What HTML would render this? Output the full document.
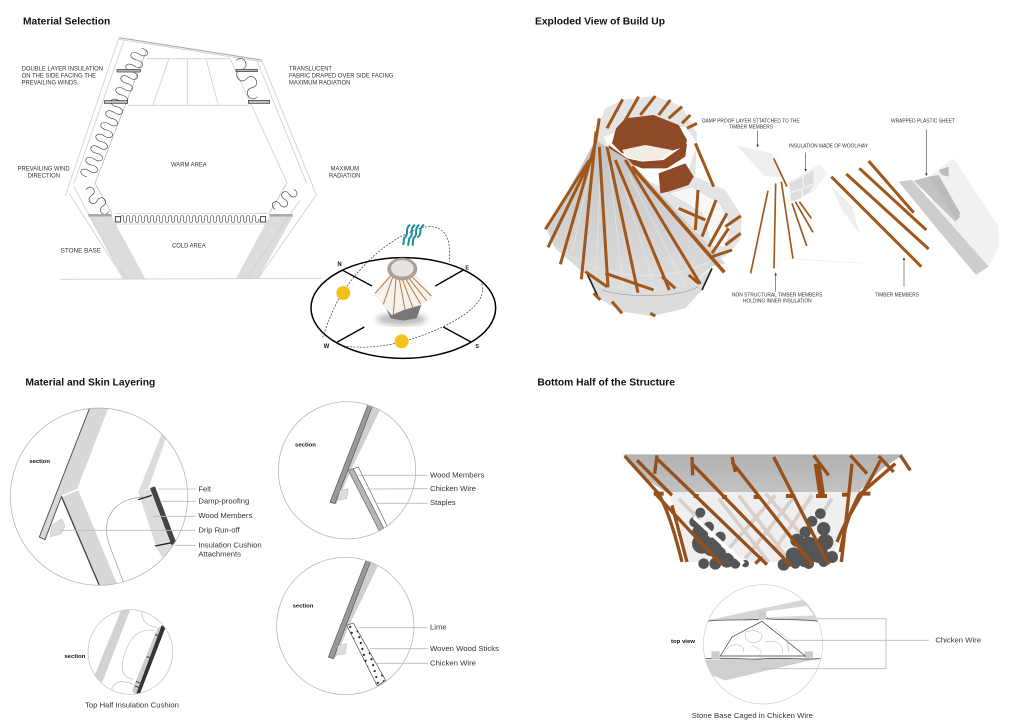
<!DOCTYPE html>
<html lang="en"><head><meta charset="utf-8"><title>Material and Build Up Diagrams</title>
<style>
html,body{margin:0;padding:0;background:#fff}
svg{display:block;filter:blur(.35px)}
text{font-family:"Liberation Sans",sans-serif;fill:#333}
.t{font-weight:bold;font-size:31px;fill:#111}
.c{font-size:18px}
.d{font-size:16px}
.l{font-size:23px}
.s{font-weight:bold;font-size:17px;fill:#111}
.g{fill:none;stroke:#cfcfcf;stroke-width:2.5}
.k{fill:none;stroke:#333;stroke-width:1.8}
.ld{fill:none;stroke:#bbb;stroke-width:2.5}
</style></head><body>
<svg width="1024" height="724" viewBox="0 0 1024 724" xmlns="http://www.w3.org/2000/svg">
<defs>
<pattern id="dots" width="26" height="26" patternUnits="userSpaceOnUse" patternTransform="rotate(30)"><rect width="26" height="26" fill="#fff"/><circle cx="7" cy="7" r="3.4" fill="#222"/><circle cx="20" cy="20" r="3.4" fill="#222"/></pattern>
<linearGradient id="cone" x1="0" y1="0" x2="0" y2="1"><stop offset="0" stop-color="#c2c2c2"/><stop offset="1" stop-color="#dedede"/></linearGradient>
<linearGradient id="band" x1="0" y1="0" x2="0" y2="1"><stop offset="0" stop-color="#b2b2b2"/><stop offset="1" stop-color="#c2c2c2"/></linearGradient>
<filter id="bl"><feGaussianBlur stdDeviation="9"/></filter>
<clipPath id="c1"><circle cx="297" cy="404" r="265"/></clipPath>
<clipPath id="c2"><circle cx="1041" cy="325" r="205"/></clipPath>
<clipPath id="c3"><circle cx="1036" cy="792" r="205"/></clipPath>
<clipPath id="c4"><circle cx="391" cy="870" r="126"/></clipPath>
<clipPath id="c5"><circle cx="753" cy="847" r="178"/></clipPath>
</defs>
<rect width="1024" height="724" fill="#fff"/>

<!-- Q1 -->
<g transform="scale(.33333)">
<text class="t" x="69" y="73" textLength="262" lengthAdjust="spacingAndGlyphs">Material Selection</text>
<polygon points="268,650 335,650 437,838 372,838" fill="#dcdcdc"/>
<polygon points="808,650 878,650 775,835 708,835" fill="#dcdcdc"/>
<path class="g" d="M357 118 L785 185 M357 113 L207 555 L197 588 M372 122 L222 550 M207 580 L372 838 M222 560 L345 790 L385 838 M785 180 L935 550 L950 590 M770 180 L920 550 M690 175 L862 550 M945 590 L775 835 M900 600 L740 835 M440 176 H690 M385 316 H750 M507 176 L458 316 M562 176 V316 M618 176 L655 316 M345 640 H805 M345 672 H800 M180 838 L965 835"/>
<path d="M357 113 L785 180" stroke="#aaa" stroke-width="3" fill="none"/>
<path d="M440 150 L285 550 L335 640 M860 550 L808 640" fill="none" stroke="#999" stroke-width="1.6"/>
<path class="k" d="M425 145 c29.800 6.500 17.900 34.500 -7.500 17.500 c-25.300 -17 -37.400 11 -7.500 17.500 c29.800 6.500 17.900 34.500 -7.500 17.500 c-25.300 -17 -37.400 11 -7.500 17.500 c29.800 6.500 17.900 34.500 -7.500 17.500 c-25.300 -17 -37.400 11 -7.500 17.500 c29.800 6.500 17.900 34.500 -7.500 17.500 c-25.300 -17 -37.400 11 -7.500 17.500 c29.800 6.500 17.900 34.500 -7.500 17.500 c-25.300 -17 -37.400 11 -7.500 17.500 c29.800 6.500 17.900 34.500 -7.500 17.500 c-25.300 -17 -37.400 11 -7.500 17.500 c29.800 6.500 17.900 34.500 -7.500 17.500 c-25.300 -17 -37.400 11 -7.500 17.500 c29.800 6.500 17.900 34.500 -7.500 17.500 c-25.300 -17 -37.400 11 -7.500 17.500 c29.800 6.500 17.900 34.500 -7.500 17.500 c-25.300 -17 -37.400 11 -7.500 17.500 c29.800 6.500 17.900 34.500 -7.500 17.500 c-25.300 -17 -37.400 11 -7.500 17.500 c29.800 6.500 17.900 34.500 -7.500 17.500 c-25.300 -17 -37.400 11 -7.500 17.500"/>
<path class="k" d="M708 182 c21 -23 46.600 20 16 27 c-30.600 6.900 -5 50.100 16 27 c21 -23 46.600 20 16 27 c-30.600 6.900 -5 50.100 16 27"/>
<path class="k" d="M258 570 c11.200 -22.300 38.400 3.300 17 16 c-21.400 12.700 5.800 38.300 17 16 c11.200 -22.300 38.400 3.300 17 16 c-21.400 12.700 5.800 38.300 17 16"/>
<path class="k" d="M882 568 c21.700 11.800 -.7 35.800 -14 15 c-13.300 -20.800 -35.700 3.200 -14 15 c21.700 11.800 -.7 35.800 -14 15 c-13.300 -20.800 -35.700 3.200 -14 15"/>
<path class="k" d="M362 657 c-2.700 -14 11.700 -14 9 0 c-2.700 14 11.700 14 9 0 c-2.700 -14 11.700 -14 9 0 c-2.700 14 11.700 14 9 0 c-2.700 -14 11.700 -14 9 0 c-2.700 14 11.700 14 9 0 c-2.700 -14 11.700 -14 9 0 c-2.700 14 11.700 14 9 0 c-2.700 -14 11.700 -14 9 0 c-2.700 14 11.700 14 9 0 c-2.700 -14 11.700 -14 9 0 c-2.700 14 11.700 14 9 0 c-2.700 -14 11.700 -14 9 0 c-2.700 14 11.700 14 9 0 c-2.700 -14 11.700 -14 9 0 c-2.700 14 11.700 14 9 0 c-2.700 -14 11.700 -14 9 0 c-2.700 14 11.700 14 9 0 c-2.700 -14 11.700 -14 9 0 c-2.700 14 11.700 14 9 0 c-2.700 -14 11.700 -14 9 0 c-2.700 14 11.700 14 9 0 c-2.700 -14 11.700 -14 9 0 c-2.700 14 11.700 14 9 0 c-2.700 -14 11.700 -14 9 0 c-2.700 14 11.700 14 9 0 c-2.700 -14 11.700 -14 9 0 c-2.700 14 11.700 14 9 0 c-2.700 -14 11.700 -14 9 0 c-2.700 14 11.700 14 9 0 c-2.700 -14 11.700 -14 9 0 c-2.700 14 11.700 14 9 0 c-2.700 -14 11.700 -14 9 0 c-2.700 14 11.700 14 9 0 c-2.700 -14 11.700 -14 9 0 c-2.700 14 11.700 14 9 0 c-2.700 -14 11.700 -14 9 0 c-2.700 14 11.700 14 9 0 c-2.700 -14 11.700 -14 9 0 c-2.700 14 11.700 14 9 0 c-2.700 -14 11.700 -14 9 0 c-2.700 14 11.700 14 9 0 c-2.700 -14 11.700 -14 9 0 c-2.700 14 11.700 14 9 0 c-2.700 -14 11.700 -14 9 0 c-2.700 14 11.700 14 9 0"/>
<g fill="#bbb" stroke="#333" stroke-width="2">
<rect x="351" y="208" width="70" height="8"/><rect x="313" y="302" width="70" height="8"/><rect x="708" y="208" width="64" height="7"/><rect x="745" y="301" width="64" height="9"/>
</g>
<rect x="265" y="642" width="70" height="8" fill="#aaa"/><rect x="808" y="642" width="70" height="8" fill="#aaa"/>
<rect x="346" y="650" width="16" height="16" fill="#fff" stroke="#222" stroke-width="2.5"/><rect x="781" y="650" width="16" height="16" fill="#fff" stroke="#222" stroke-width="2.5"/>
<text class="c" x="65" y="212" textLength="244" lengthAdjust="spacingAndGlyphs">DOUBLE LAYER INSULATION</text>
<text class="c" x="65" y="233" textLength="223" lengthAdjust="spacingAndGlyphs">ON THE SIDE FACING THE</text>
<text class="c" x="65" y="254" textLength="171" lengthAdjust="spacingAndGlyphs">PREVAILING WINDS.</text>
<text class="c" x="867" y="211" textLength="129" lengthAdjust="spacingAndGlyphs">TRANSLUCENT</text>
<text class="c" x="867" y="232" textLength="313" lengthAdjust="spacingAndGlyphs">FABRIC DRAPED OVER SIDE FACING</text>
<text class="c" x="867" y="253" textLength="184" lengthAdjust="spacingAndGlyphs">MAXIMUM RADIATION</text>
<text class="c" x="53" y="511" textLength="156" lengthAdjust="spacingAndGlyphs">PREVAILING WIND</text>
<text class="c" x="83" y="532" textLength="97" lengthAdjust="spacingAndGlyphs">DIRECTION</text>
<text class="c" x="513" y="499" textLength="107" lengthAdjust="spacingAndGlyphs">WARM AREA</text>
<text class="c" x="992" y="511" textLength="85" lengthAdjust="spacingAndGlyphs">MAXIMUM</text>
<text class="c" x="987" y="532" textLength="94" lengthAdjust="spacingAndGlyphs">RADIATION</text>
<text class="c" x="182" y="758" textLength="121" lengthAdjust="spacingAndGlyphs">STONE BASE</text>
<text class="c" x="516" y="742" textLength="101" lengthAdjust="spacingAndGlyphs">COLD AREA</text>
<!-- sun diagram -->
<ellipse cx="1210" cy="924" rx="277" ry="151" fill="#fff" stroke="#000" stroke-width="4.500"/>
<path d="M1030 812 L1116 858 M1390 810 L1306 858 M1012 1026 L1093 981 M1413 1026 L1330 981" stroke="#000" stroke-width="4" fill="none"/>
<path d="M968 1012 C985 960 1010 900 1040 860 C1090 790 1170 710 1270 682 C1330 670 1355 710 1348 785 M1020 1036 C1100 1050 1200 1040 1330 980 C1410 940 1460 900 1445 850" fill="none" stroke="#333" stroke-width="2" stroke-dasharray="6 4"/>
<circle cx="1030" cy="879" r="21" fill="#f3c31c"/><circle cx="1205" cy="1024" r="21" fill="#f3c31c"/>
<ellipse cx="1205" cy="958" rx="75" ry="18" fill="#bbb" filter="url(#bl)"/>
<polygon points="1155,918 1265,912 1250,955 1210,962 1172,955" fill="#777"/>
<polygon points="1168,825 1248,825 1297,890 1262,915 1210,930 1175,945 1125,885" fill="#f6f3ef" stroke="#e2e2e2"/>
<path d="M1172 828 L1125 880 M1178 832 L1150 913 M1188 836 L1180 943 M1198 838 L1215 928 M1208 840 L1238 922 M1218 838 L1262 912 M1228 836 L1280 902 M1238 832 L1294 888" stroke="#b87a3a" stroke-width="3" fill="none"/>
<ellipse cx="1207" cy="807" rx="45" ry="34" fill="#a8a296"/><ellipse cx="1207" cy="805" rx="34" ry="25" fill="#e8e2e2"/>
<g fill="none" stroke="#1c8c9a" stroke-width="6">
<path d="M1230 674 C1212 690 1230 700 1212 715 L1210 735"/>
<path d="M1245 674 C1225 690 1245 700 1228 715 L1224 737"/>
<path d="M1258 674 C1238 690 1258 700 1240 715 L1238 737"/>
<path d="M1272 674 C1252 690 1270 700 1252 712"/>
</g>
<text x="1012" y="798" font-size="18" font-weight="bold" style="fill:#111">N</text>
<text x="1396" y="808" font-size="16" font-weight="bold" style="fill:#111">E</text>
<text x="971" y="1044" font-size="18" font-weight="bold" style="fill:#111">W</text>
<text x="1426" y="1044" font-size="16" font-weight="bold" style="fill:#111">S</text>
</g>

<!-- Q2 -->
<g transform="translate(512,0) scale(.33333)">
<text class="t" x="69" y="73" textLength="390" lengthAdjust="spacingAndGlyphs">Exploded View of Build Up</text>
<!-- rear shell -->
<polygon points="250,400 280,325 330,300 430,288 510,320 555,400 550,530 640,570 690,650 685,720 640,770 500,820 300,600" fill="#e4e4e4"/>
<polygon points="275,410 300,400 520,380 555,430 530,510 470,570 380,530 300,470" fill="#fdfdfd"/>
<polygon points="470,580 540,560 625,610 660,680 640,740 600,740 570,640" fill="#f8f8f8" stroke="#d5d5d5" stroke-width="2"/>
<!-- brown ring -->
<polygon points="300,430 312,385 340,355 425,345 500,375 525,420 520,440 470,455 390,440 330,460" fill="#8e4a26"/>
<polygon points="330,450 400,435 480,450 450,478 385,482 345,470" fill="#f3ece4"/>
<polygon points="290,435 345,475 390,485 455,480 525,430 520,470 465,505 390,505 325,480 295,460" fill="#8e4a26"/>
<polygon points="440,520 520,490 545,530 530,555 470,575 445,580" fill="#8e4a26"/>
<!-- base -->
<polygon points="220,810 260,895 330,935 420,948 520,925 570,870 600,805 540,850 400,880 290,860" fill="#dcdcdc"/>
<path d="M220 810 L260 895 M600 805 L570 870" stroke="#222" stroke-width="5" fill="none"/>
<path d="M270 870 C330 890 480 900 560 860" stroke="#888" stroke-width="1.5" fill="none"/>
<!-- cone -->
<polygon points="250,420 105,690 130,745 205,810 290,860 400,880 540,850 600,800 640,790 350,480" fill="url(#cone)"/>
<path d="M245 460 L180 760 M268 470 L250 840 M290 480 L335 870 M320 500 L430 875 M350 520 L520 860 M130 740 C250 830 450 860 600 780" stroke="#eee" stroke-width="1.5" fill="none"/>
<!-- timbers -->
<g fill="none" stroke="#a0571c" stroke-width="9">
<path d="M252 395 L208 838 M250 430 L145 793 M240 470 L108 742 M232 480 L100 688 M262 440 L288 862 M285 440 L378 878 M310 480 L472 870 M340 480 L565 852"/>
<path d="M360 500 L637 817" stroke-width="11"/>
<path d="M262 355 L250 430 M285 385 L332 298 M340 360 L380 290 M385 345 L430 288 M440 345 L475 300 M470 355 L510 320 M510 370 L535 345 M525 385 L555 370 M550 430 L605 560"/>
<path d="M558 570 L550 690 M612 600 L570 710 M645 640 L590 740 M650 685 L600 760 M686 648 L640 680 M686 700 L640 735 M660 750 L600 770 M500 625 L580 660"/>
<path d="M220 815 L285 860 M280 820 L425 870 M450 830 L490 865 M245 880 L265 900 M300 905 L330 940 M530 825 L560 850 M415 940 L430 948"/>
</g>
<!-- damp proof / insulation -->
<polygon points="675,438 780,460 815,530 760,530" fill="#eee"/>
<polygon points="830,545 925,490 945,520 905,575 835,605" fill="#f3f3f3"/>
<path d="M832 550 L870 530 L872 565 L834 575 Z M875 527 L905 510 L905 550 L875 562 Z M835 580 L868 570 L868 595 L838 605 Z M873 567 L903 555 L895 575 L873 590 Z" fill="#ddd"/>
<g stroke="#a0571c" stroke-width="5" fill="none">
<path d="M768 572 L716 820 M791 550 L786 805 M808 545 L843 777 M785 475 L825 560 M840 610 L884 738 M850 605 L903 697 M862 605 L898 655"/>
</g>
<path d="M815 775 L1055 790" stroke="#eee" stroke-width="2"/>
<polygon points="960,560 1020,620 1042,700 990,630" fill="#eee"/>
<!-- plastic -->
<polygon points="1250,530 1325,475 1380,560 1460,680 1460,740 1430,800 1270,670" fill="#f1f1f1"/>
<polygon points="1160,545 1200,540 1430,800 1392,825 1270,680" fill="#cdcdcd"/>
<polygon points="1205,542 1250,530 1345,650 1330,665" fill="#c2c2c2"/>
<polygon points="1250,530 1280,525 1345,640 1335,660" fill="#bbb"/>
<polygon points="1280,510 1310,500 1310,530 1290,525" fill="#bbb"/>
<g stroke="#a0571c" stroke-width="9" fill="none">
<path d="M958 530 L1228 800 M1003 522 L1250 747 M1042 505 L1243 690 M1070 483 L1205 638"/>
</g>
<g stroke="#555" stroke-width="2" fill="#333">
<path d="M737 392 V436 M881 458 V509 M1243 388 V522 M791 875 V824 M1176 860 V778" fill="none"/>
<path d="M733 434 L737 442 L741 434 Z M877 507 L881 515 L885 507 Z M1239 520 L1243 528 L1247 520 Z M787 826 L791 818 L795 826 Z M1172 780 L1176 772 L1180 780 Z" stroke="none"/>
</g>
<text class="d" x="570" y="368" textLength="293" lengthAdjust="spacingAndGlyphs">DAMP PROOF LAYER STTATCHED TO THE</text>
<text class="d" x="651" y="386" textLength="132" lengthAdjust="spacingAndGlyphs">TIMBER MEMBERS</text>
<text class="d" x="831" y="443" textLength="237" lengthAdjust="spacingAndGlyphs">INSULATION MADE OF WOOL/HAY</text>
<text class="d" x="1137" y="368" textLength="192" lengthAdjust="spacingAndGlyphs">WRAPPED PLASTIC SHEET</text>
<text class="d" x="660" y="890" textLength="271" lengthAdjust="spacingAndGlyphs">NON STRUCTURAL TIMBER MEMBERS</text>
<text class="d" x="693" y="908" textLength="206" lengthAdjust="spacingAndGlyphs">HOLDING INNER INSULATION</text>
<text class="d" x="1089" y="890" textLength="132" lengthAdjust="spacingAndGlyphs">TIMBER MEMBERS</text>
</g>

<!-- Q3 -->
<g transform="translate(0,362) scale(.33333)">
<text class="t" x="76" y="71" textLength="390" lengthAdjust="spacingAndGlyphs">Material and Skin Layering</text>
<g clip-path="url(#c1)">
<polygon points="272,130 328,130 232,380 185,400 135,533 118,525" fill="#d8d8d8"/>
<path d="M272 130 L118 525 L135 533 L185 402" fill="none" stroke="#555" stroke-width="3"/>
<polygon points="185,405 235,385 355,675 300,675" fill="#d8d8d8"/>
<path d="M185 405 L300 675" stroke="#444" stroke-width="4" fill="none"/>
<polygon points="155,490 185,470 195,490 185,515 150,525" fill="#ddd" stroke="#aaa"/>
<polygon points="487,210 500,222 445,380 415,390" fill="#dcdcdc"/>
<polygon points="415,390 455,380 530,540 490,590 470,560" fill="#dcdcdc"/>
<polygon points="450,378 465,373 528,540 515,550" fill="#444"/>
<path d="M372 665 L325 540 C305 470 340 410 430 405" fill="none" stroke="#999" stroke-width="2"/>
<path d="M415 413 L455 400 M465 552 L515 542" stroke="#222" stroke-width="4" fill="none"/>
</g>
<circle cx="297" cy="404" r="266" fill="none" stroke="#aaa" stroke-width="2"/>
<path class="ld" d="M475 381 H588 M480 418 H588 M460 463 H588 M180 505 H588 M525 550 H588"/>
<text class="s" x="88" y="303" textLength="62" lengthAdjust="spacingAndGlyphs">section</text>
<text class="l" x="595" y="388" textLength="38" lengthAdjust="spacingAndGlyphs">Felt</text>
<text class="l" x="595" y="425" textLength="153" lengthAdjust="spacingAndGlyphs">Damp-proofing</text>
<text class="l" x="595" y="468" textLength="162" lengthAdjust="spacingAndGlyphs">Wood Members</text>
<text class="l" x="595" y="512" textLength="124" lengthAdjust="spacingAndGlyphs">Drip Run-off</text>
<text class="l" x="595" y="556" textLength="190" lengthAdjust="spacingAndGlyphs">Insulation Cushion</text>
<text class="l" x="595" y="584" textLength="128" lengthAdjust="spacingAndGlyphs">Attachments</text>

<g clip-path="url(#c2)">
<polygon points="1105,125 1142,140 1055,320 1010,425 990,420" fill="#cfcfcf"/>
<polygon points="1105,125 1118,130 1005,425 990,420" fill="#999" stroke="#555" stroke-width="2"/>
<polygon points="1020,385 1045,380 1040,410 1012,415" fill="#ddd" stroke="#999"/>
<polygon points="1045,325 1060,320 1152,500 1137,505" fill="#b5b5b5" stroke="#666" stroke-width="2"/>
<polygon points="1060,320 1075,315 1162,493 1152,500" fill="#fff" stroke="#666" stroke-width="2"/>
</g>
<circle cx="1041" cy="325" r="206" fill="none" stroke="#aaa" stroke-width="2"/>
<path class="ld" d="M1075 340 H1283 M1100 381 L1283 380 M1130 424 H1283"/>
<text class="s" x="885" y="253" textLength="63" lengthAdjust="spacingAndGlyphs">section</text>
<text class="l" x="1290" y="346" textLength="163" lengthAdjust="spacingAndGlyphs">Wood Members</text>
<text class="l" x="1290" y="387" textLength="138" lengthAdjust="spacingAndGlyphs">Chicken Wire</text>
<text class="l" x="1290" y="429" textLength="77" lengthAdjust="spacingAndGlyphs">Staples</text>

<g clip-path="url(#c3)">
<polygon points="1100,590 1137,605 1050,785 1005,890 985,885" fill="#cfcfcf"/>
<polygon points="1100,590 1113,595 1000,890 985,885" fill="#999" stroke="#555" stroke-width="2"/>
<polygon points="1015,850 1040,845 1035,875 1007,880" fill="#ddd" stroke="#999"/>
<polygon points="1040,790 1060,783 1157,955 1132,972" fill="url(#dots)" stroke="#444" stroke-width="2"/>
</g>
<circle cx="1036" cy="792" r="206" fill="none" stroke="#aaa" stroke-width="2"/>
<path class="ld" d="M1075 797 H1283 M1110 860 H1283 M1130 904 H1283"/>
<text class="s" x="878" y="737" textLength="62" lengthAdjust="spacingAndGlyphs">section</text>
<text class="l" x="1290" y="803" textLength="50" lengthAdjust="spacingAndGlyphs">Lime</text>
<text class="l" x="1290" y="867" textLength="207" lengthAdjust="spacingAndGlyphs">Woven Wood Sticks</text>
<text class="l" x="1290" y="911" textLength="138" lengthAdjust="spacingAndGlyphs">Chicken Wire</text>

<g clip-path="url(#c4)">
<polygon points="365,740 392,740 305,965 283,942" fill="#d2d2d2"/>
<polygon points="472,800 485,790 407,1000 396,985" fill="#ccc"/>
<polygon points="485,790 497,795 418,1000 407,1000" fill="#333"/>
<path d="M425 745 C425 780 440 790 470 797 M465 805 C420 800 395 820 380 860 C355 920 365 945 400 952 M335 990 C335 960 365 950 400 968" fill="none" stroke="#bbb" stroke-width="2"/>
<path d="M465 818 L480 822 M440 884 L455 888 M408 958 L425 966 M405 972 L420 978" stroke="#444" stroke-width="3"/>
</g>
<circle cx="391" cy="870" r="127" fill="none" stroke="#bbb" stroke-width="2"/>
<text class="s" x="193" y="888" textLength="63" lengthAdjust="spacingAndGlyphs">section</text>
<text class="l" x="255" y="1036" textLength="282" lengthAdjust="spacingAndGlyphs">Top Half Insulation Cushion</text>
</g>

<!-- Q4 -->
<g transform="translate(512,362) scale(.33333)">
<text class="t" x="76" y="70" textLength="413" lengthAdjust="spacingAndGlyphs">Bottom Half of the Structure</text>
<polygon points="470,390 1040,390 970,560 985,600 530,600" fill="#efefef"/>
<g stroke="#d8cfca" stroke-width="11" fill="none">
<path d="M620 410 L770 600 M680 400 L820 580 M760 395 L880 530 M850 400 L700 590 M790 400 L650 560 M900 400 L790 560 M960 410 L920 470 M500 410 L560 470"/>
</g>
<polygon points="333,277 1175,277 1110,320 1040,390 460,390 400,350" fill="url(#band)"/>
<g fill="#555">
<circle cx="565" cy="452" r="15"/><circle cx="548" cy="480" r="16"/><circle cx="565" cy="510" r="24"/><circle cx="590" cy="495" r="16"/><circle cx="625" cy="525" r="16"/><circle cx="570" cy="545" r="30"/><circle cx="600" cy="555" r="28"/><circle cx="620" cy="575" r="22"/><circle cx="645" cy="595" r="22"/><circle cx="575" cy="605" r="16"/><circle cx="610" cy="605" r="18"/><circle cx="670" cy="605" r="15"/><circle cx="700" cy="605" r="11"/>
<circle cx="925" cy="455" r="16"/><circle cx="900" cy="478" r="16"/><circle cx="935" cy="500" r="20"/><circle cx="880" cy="510" r="17"/><circle cx="855" cy="535" r="20"/><circle cx="890" cy="550" r="26"/><circle cx="940" cy="540" r="24"/><circle cx="845" cy="580" r="24"/><circle cx="815" cy="608" r="18"/><circle cx="880" cy="590" r="26"/><circle cx="920" cy="575" r="28"/><circle cx="960" cy="585" r="18"/><circle cx="850" cy="605" r="15"/><circle cx="890" cy="605" r="16"/><circle cx="935" cy="600" r="15"/>
</g>
<path d="M545 465 L695 605" stroke="#fff" stroke-width="11" fill="none"/>
<g stroke="#96501c" fill="none" stroke-width="10">
<path d="M375 295 L480 400 M338 282 L440 395 C470 450 490 520 510 600 M430 395 L625 605 M435 290 L765 608 M540 305 L838 612 M660 300 L903 610 M785 285 L950 608"/>
<path d="M480 430 L525 600 M730 605 L750 585"/>
<path d="M435 280 L428 335 M540 285 L542 340 M660 285 L670 330 M1100 282 L1145 330 M1015 280 L1065 335 M905 280 L950 340 M1165 280 L1195 325"/>
<path d="M915 305 L930 405" stroke-width="20"/>
<path d="M1020 305 C1010 400 1000 500 988 600 M1105 295 C1060 390 1010 450 975 540 M1150 305 L1040 400 C1020 440 1000 480 985 570"/>
<path d="M425 395 H455 M545 402 H560 M630 405 H645 M725 405 H745 M822 402 H850 M912 402 H945 M990 398 H1015 M1040 395 H1075" stroke-width="12"/>
</g>
<!-- top view -->
<g clip-path="url(#c5)">
<polygon points="585,775 880,712 925,778 760,772" fill="#d6d6d6"/>
<polygon points="762,748 885,732 905,760 762,766" fill="#fff"/>
<polygon points="575,893 925,888 640,955 600,940" fill="#d0d0d0"/>
<path d="M590 777 C650 770 700 778 760 770 C820 775 860 770 920 778 M580 890 C660 885 700 895 760 890 C820 885 870 895 925 890" fill="none" stroke="#333" stroke-width="2"/>
<rect x="740" y="748" width="22" height="25" fill="#ccc"/>
<rect x="598" y="868" width="25" height="22" fill="#ccc"/><rect x="878" y="868" width="25" height="22" fill="#ccc"/>
</g>
<polygon points="750,778 880,882 625,882 660,825" fill="#fff" stroke="#333" stroke-width="2"/>
<path d="M700 810 C730 800 760 810 745 835 C725 850 695 840 700 810 M640 865 C660 840 700 845 695 870 M760 840 C790 830 820 850 810 875 M720 850 C740 860 760 870 740 880 M790 800 L825 830 L830 870" fill="none" stroke="#aaa" stroke-width="1.5"/>
<circle cx="753" cy="847" r="179" fill="none" stroke="#ccc" stroke-width="2"/>
<path class="ld" d="M915 770 H1122 V920 H750 M820 835 H1250"/>
<text class="s" x="477" y="843" textLength="72" lengthAdjust="spacingAndGlyphs">top view</text>
<text class="l" x="1270" y="842" textLength="137" lengthAdjust="spacingAndGlyphs">Chicken Wire</text>
<text class="l" x="539" y="1068" textLength="364" lengthAdjust="spacingAndGlyphs">Stone Base Caged in Chicken Wire</text>
</g>
</svg>
</body></html>
